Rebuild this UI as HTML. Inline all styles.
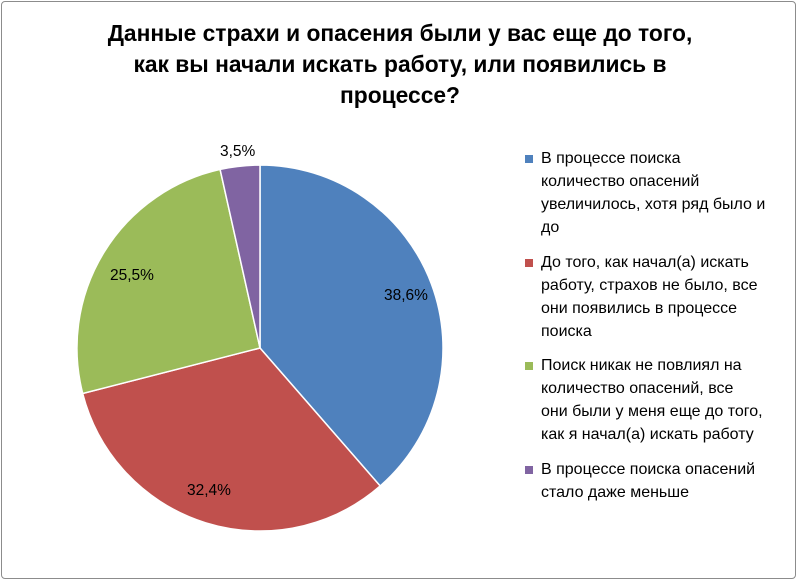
<!DOCTYPE html>
<html><head><meta charset="utf-8"><style>
body{margin:0;background:#fff;}
.f{position:absolute;left:1px;top:1px;width:795px;height:578px;border:1px solid #8c8c8c;border-radius:4px;box-sizing:border-box;}
.t{position:absolute;left:0;width:800px;top:18px;text-align:center;font:bold 22.8px/31px "Liberation Sans","DejaVu Sans",sans-serif;color:#000;}
.lg{position:absolute;left:541px;font:16px/23px "Liberation Sans","DejaVu Sans",sans-serif;color:#000;white-space:nowrap;}
.sq{position:absolute;left:525px;width:8px;height:8px;}
.lb{position:absolute;font:15.5px "Liberation Sans","DejaVu Sans",sans-serif;color:#000;}
</style></head><body>
<div class="f"></div>
<div class="t">Данные страхи и опасения были у вас еще до того,<br>как вы начали искать работу, или появились в<br>процессе?</div>
<svg width="800" height="582" style="position:absolute;left:0;top:0">
<g stroke="#fff" stroke-width="1.5">
<path d="M260,348 L260,165 A183,183 0 0 1 380.2,486 Z" fill="#4F81BD"/>
<path d="M260,348 L380.2,486 A183,183 0 0 1 82.7,393.5 Z" fill="#C0504D"/>
<path d="M260,348 L82.7,393.5 A183,183 0 0 1 220.1,169.4 Z" fill="#9BBB59"/>
<path d="M260,348 L220.1,169.4 A183,183 0 0 1 260,165 Z" fill="#8064A2"/>
</g></svg>
<div class="lb" style="left:220px;top:143px">3,5%</div>
<div class="lb" style="left:384px;top:287px">38,6%</div>
<div class="lb" style="left:110px;top:267px">25,5%</div>
<div class="lb" style="left:187px;top:482px">32,4%</div>
<div class="sq" style="top:155px;background:#4F81BD"></div>
<div class="lg" style="top:147px">В процессе поиска<br>количество опасений<br>увеличилось, хотя ряд было и<br>до</div>
<div class="sq" style="top:259px;background:#C0504D"></div>
<div class="lg" style="top:251px">До того, как начал(а) искать<br>работу, страхов не было, все<br>они появились в процессе<br>поиска</div>
<div class="sq" style="top:362px;background:#9BBB59"></div>
<div class="lg" style="top:354px">Поиск никак не повлиял на<br>количество опасений, все<br>они были у меня еще до того,<br>как я начал(а) искать работу</div>
<div class="sq" style="top:466px;background:#8064A2"></div>
<div class="lg" style="top:458px">В процессе поиска опасений<br>стало даже меньше</div>
</body></html>
